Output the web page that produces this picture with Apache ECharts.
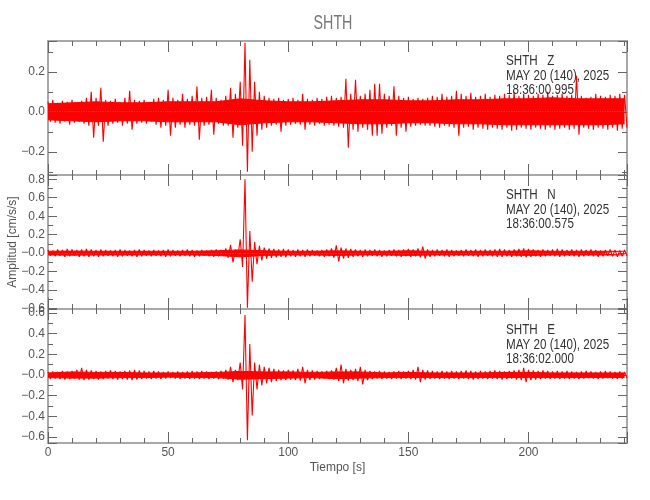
<!DOCTYPE html>
<html><head><meta charset="utf-8">
<script src="https://cdn.jsdelivr.net/npm/echarts@6/dist/echarts.min.js"></script>
<style>html,body{margin:0;padding:0;background:#fff}#c{width:650px;height:500px}</style>
</head><body><div id="c"></div>
<script>
// ---------------- data ----------------
const TITLE = 'SHTH';
const Y_NAME = 'Amplitud [cm/s/s]';
const X_NAME = 'Tiempo [s]';
const HEADERS = [
  ['SHTH   Z', 'MAY 20 (140), 2025', '18:36:00.995'],
  ['SHTH   N', 'MAY 20 (140), 2025', '18:36:00.575'],
  ['SHTH   E', 'MAY 20 (140), 2025', '18:36:02.000']
];
const BIN_SECONDS = 2;           // spike extremes read every 2 s (max first half, min second half)
const CORE_SECONDS = 10;         // solid core band read every 10 s
const X_RANGE = [0, 241];
const X_TICK_VALUES = [0, 50, 100, 150, 200];
const X_TICK_LABELS = ['0', '50', '100', '150', '200'];

// Z component: spike extremes (cm/s/s) per 2-s bin, t = 0..240
const Z_MAX = [0.05,0.06,0.045,0.055,0.05, 0.06,0.045,0.055,0.07,0.10,
 0.07,0.12,0.06,0.055,0.065, 0.05,0.07,0.105,0.06,0.055,
 0.06,0.05,0.065,0.07,0.06, 0.11,0.07,0.06,0.09,0.065,
 0.08,0.127,0.07,0.075,0.11, 0.07,0.06,0.08,0.12,0.09,
 0.15,0.345,0.26,0.15,0.10, 0.08,0.07,0.065,0.07,0.06,
 0.065,0.07,0.06,0.09,0.065, 0.06,0.07,0.065,0.075,0.08,
 0.07,0.075,0.165,0.09,0.16, 0.08,0.09,0.11,0.14,0.14,
 0.09,0.08,0.127,0.08,0.07, 0.075,0.065,0.07,0.065,0.07,
 0.08,0.075,0.09,0.075,0.08, 0.105,0.09,0.08,0.095,0.075,
 0.08,0.09,0.075,0.085,0.08, 0.09,0.085,0.1,0.08,0.09,
 0.085,0.08,0.09,0.085,0.1, 0.08,0.085,0.09,0.08,0.085,
 0.18,0.08,0.07,0.075,0.09, 0.08,0.075,0.085,0.08,0.09,
 0.085];
const Z_MIN = [-0.05,-0.055,-0.06,-0.05,-0.065, -0.055,-0.05,-0.06,-0.07,-0.13,
 -0.07,-0.15,-0.07,-0.06,-0.055, -0.07,-0.06,-0.09,-0.06,-0.055,
 -0.06,-0.05,-0.065,-0.08,-0.07, -0.12,-0.08,-0.065,-0.08,-0.065,
 -0.07,-0.14,-0.07,-0.065,-0.115, -0.06,-0.07,-0.07,-0.13,-0.08,
 -0.17,-0.30,-0.20,-0.12,-0.09, -0.08,-0.07,-0.065,-0.10,-0.07,
 -0.065,-0.06,-0.065,-0.09,-0.065, -0.07,-0.06,-0.07,-0.065,-0.07,
 -0.075,-0.08,-0.18,-0.09,-0.10, -0.08,-0.09,-0.12,-0.12,-0.11,
 -0.08,-0.07,-0.12,-0.08,-0.10, -0.075,-0.07,-0.065,-0.07,-0.07,
 -0.075,-0.08,-0.07,-0.075,-0.08, -0.12,-0.08,-0.075,-0.09,-0.08,
 -0.085,-0.09,-0.08,-0.085,-0.09, -0.08,-0.095,-0.09,-0.08,-0.085,
 -0.09,-0.08,-0.085,-0.09,-0.08, -0.09,-0.085,-0.08,-0.09,-0.085,
 -0.115,-0.08,-0.085,-0.09,-0.08, -0.085,-0.09,-0.08,-0.095,-0.085,
 -0.08];
// Z solid core band, t = 0..240 every 10 s
const Z_CORE_HI = [0.04,0.045,0.05,0.045,0.045, 0.05,0.05,0.05,0.065,0.055,
 0.05,0.05,0.055,0.06,0.06, 0.055,0.055,0.06,0.06,0.065, 0.065,0.07,0.065,0.065,0.065];
const Z_CORE_LO = [-0.04,-0.045,-0.05,-0.045,-0.045, -0.05,-0.05,-0.05,-0.065,-0.055,
 -0.05,-0.05,-0.055,-0.06,-0.06, -0.055,-0.055,-0.06,-0.06,-0.065, -0.065,-0.065,-0.065,-0.065,-0.06];

// N component
const N_MAX = [0.035,0.03,0.04,0.035,0.045, 0.04,0.035,0.04,0.045,0.04,
 0.035,0.04,0.035,0.03,0.035, 0.04,0.035,0.03,0.035,0.04,
 0.035,0.03,0.035,0.03,0.035, 0.04,0.035,0.03,0.035,0.04,
 0.035,0.03,0.035,0.03,0.035, 0.04,0.035,0.05,0.09,0.04,
 0.15,0.80,0.24,0.12,0.08, 0.06,0.05,0.045,0.04,0.045,
 0.04,0.035,0.04,0.035,0.04, 0.035,0.03,0.035,0.04,0.05,
 0.085,0.06,0.05,0.045,0.04, 0.035,0.04,0.035,0.04,0.035,
 0.03,0.035,0.04,0.035,0.04, 0.045,0.04,0.05,0.07,0.04,
 0.035,0.04,0.035,0.04,0.035, 0.03,0.035,0.04,0.035,0.04,
 0.035,0.04,0.035,0.04,0.045, 0.04,0.035,0.04,0.045,0.05,
 0.045,0.04,0.035,0.04,0.035, 0.04,0.045,0.04,0.035,0.04,
 0.035,0.04,0.035,0.04,0.035, 0.03,0.035,0.04,0.035,0.03,
 0.035];
const N_MIN = [-0.03,-0.035,-0.03,-0.04,-0.035, -0.03,-0.04,-0.035,-0.04,-0.035,
 -0.04,-0.035,-0.03,-0.035,-0.04, -0.035,-0.03,-0.035,-0.04,-0.035,
 -0.03,-0.035,-0.03,-0.035,-0.04, -0.035,-0.03,-0.035,-0.03,-0.035,
 -0.04,-0.035,-0.03,-0.035,-0.04, -0.035,-0.03,-0.05,-0.10,-0.04,
 -0.15,-0.59,-0.31,-0.12,-0.08, -0.06,-0.05,-0.045,-0.04,-0.045,
 -0.035,-0.04,-0.035,-0.04,-0.035, -0.03,-0.035,-0.04,-0.035,-0.05,
 -0.09,-0.06,-0.05,-0.04,-0.035, -0.04,-0.035,-0.03,-0.035,-0.04,
 -0.035,-0.03,-0.035,-0.04,-0.035, -0.04,-0.035,-0.045,-0.06,-0.04,
 -0.035,-0.03,-0.035,-0.04,-0.035, -0.03,-0.035,-0.03,-0.035,-0.04,
 -0.035,-0.03,-0.035,-0.04,-0.04, -0.035,-0.04,-0.035,-0.04,-0.045,
 -0.04,-0.035,-0.04,-0.035,-0.03, -0.035,-0.04,-0.035,-0.03,-0.035,
 -0.04,-0.035,-0.03,-0.035,-0.04, -0.035,-0.03,-0.035,-0.04,-0.035,
 -0.03];
const N_CORE_HI = [0.02,0.022,0.02,0.02,0.02, 0.02,0.02,0.025,0.035,0.025,
 0.02,0.02,0.025,0.02,0.02, 0.025,0.02,0.02,0.02,0.02, 0.025,0.02,0.02,0.02,0.02];
const N_CORE_LO = [-0.02,-0.022,-0.02,-0.02,-0.02, -0.02,-0.02,-0.025,-0.04,-0.025,
 -0.02,-0.02,-0.025,-0.02,-0.02, -0.025,-0.02,-0.02,-0.02,-0.02, -0.025,-0.02,-0.02,-0.02,-0.02];

// E component
const E_MAX = [0.03,0.035,0.03,0.04,0.035, 0.04,0.05,0.07,0.05,0.045,
 0.04,0.035,0.04,0.045,0.04, 0.035,0.04,0.045,0.05,0.045,
 0.04,0.035,0.04,0.035,0.03, 0.035,0.03,0.035,0.03,0.035,
 0.04,0.035,0.04,0.035,0.03, 0.035,0.04,0.05,0.08,0.05,
 0.12,0.58,0.30,0.12,0.10, 0.08,0.07,0.06,0.05,0.045,
 0.05,0.045,0.06,0.08,0.05, 0.045,0.04,0.035,0.04,0.045,
 0.07,0.10,0.06,0.05,0.06, 0.08,0.05,0.04,0.035,0.04,
 0.035,0.03,0.035,0.04,0.035, 0.04,0.05,0.08,0.05,0.045,
 0.04,0.035,0.04,0.035,0.04, 0.035,0.04,0.045,0.04,0.035,
 0.04,0.035,0.04,0.045,0.04, 0.035,0.04,0.045,0.05,0.07,
 0.05,0.045,0.04,0.045,0.04, 0.035,0.04,0.035,0.04,0.035,
 0.03,0.035,0.04,0.035,0.03, 0.035,0.04,0.035,0.03,0.035,
 0.03];
const E_MIN = [-0.04,-0.035,-0.04,-0.045,-0.04, -0.035,-0.045,-0.05,-0.045,-0.04,
 -0.045,-0.04,-0.035,-0.04,-0.045, -0.04,-0.045,-0.05,-0.045,-0.04,
 -0.035,-0.04,-0.035,-0.04,-0.035, -0.03,-0.035,-0.04,-0.035,-0.04,
 -0.035,-0.04,-0.035,-0.04,-0.035, -0.04,-0.035,-0.045,-0.07,-0.05,
 -0.14,-0.63,-0.39,-0.14,-0.10, -0.08,-0.07,-0.06,-0.05,-0.05,
 -0.045,-0.05,-0.055,-0.08,-0.05, -0.045,-0.04,-0.035,-0.04,-0.045,
 -0.06,-0.08,-0.055,-0.05,-0.06, -0.09,-0.05,-0.04,-0.035,-0.04,
 -0.035,-0.04,-0.035,-0.04,-0.035, -0.04,-0.045,-0.07,-0.045,-0.04,
 -0.035,-0.04,-0.035,-0.04,-0.035, -0.04,-0.035,-0.04,-0.045,-0.04,
 -0.035,-0.04,-0.035,-0.04,-0.045, -0.04,-0.035,-0.045,-0.05,-0.07,
 -0.05,-0.045,-0.04,-0.035,-0.04, -0.035,-0.04,-0.035,-0.04,-0.035,
 -0.04,-0.035,-0.03,-0.035,-0.04, -0.035,-0.03,-0.035,-0.04,-0.035,
 -0.03];
const E_CORE_HI = [0.02,0.03,0.025,0.025,0.02, 0.02,0.02,0.025,0.035,0.03,
 0.03,0.025,0.03,0.03,0.02, 0.025,0.02,0.02,0.02,0.025, 0.025,0.02,0.02,0.02,0.02];
const E_CORE_LO = [-0.025,-0.03,-0.03,-0.025,-0.025, -0.02,-0.025,-0.025,-0.04,-0.035,
 -0.03,-0.025,-0.035,-0.03,-0.025, -0.025,-0.025,-0.025,-0.025,-0.025, -0.025,-0.025,-0.025,-0.025,-0.025];

const Y_RANGES = [[-0.316, 0.354], [-0.605, 0.846], [-0.657, 0.638]];
const Y_TICK_VALUES = [
  [-0.2, 0, 0.2],
  [-0.6, -0.4, -0.2, 0, 0.2, 0.4, 0.6, 0.8],
  [-0.6, -0.4, -0.2, 0, 0.2, 0.4, 0.6]
];
const Y_TICK_LABELS = [
  ['\u22120.2', '0.0', '0.2'],
  ['\u22120.6', '\u22120.4', '\u22120.2', '\u22120.0', '0.2', '0.4', '0.6', '0.8'],
  ['\u22120.6', '\u22120.4', '\u22120.2', '\u22120.0', '0.2', '0.4', '0.6']
];
const UPPER = [Z_MAX, N_MAX, E_MAX];
const LOWER = [Z_MIN, N_MIN, E_MIN];
const CORE_HI = [Z_CORE_HI, N_CORE_HI, E_CORE_HI];
const CORE_LO = [Z_CORE_LO, N_CORE_LO, E_CORE_LO];

// ---------------- styling / layout ----------------
const FONT = '"Liberation Sans", Arial, sans-serif';
const FRAME = '#a8a8a8';
const TICK = '#666';
const LABEL = '#555';
const RED = '#ff0000';
const GRID_TOPS = [41, 175, 309];
const GRID_H = 134;

function lookupLabel(values, labels, v, tol) {
  for (let i = 0; i < values.length; i++) if (Math.abs(values[i] - v) < tol) return labels[i];
  return '';
}

const grids = GRID_TOPS.map(t => ({ left: 48, right: 23, top: t, height: GRID_H, containLabel: false, outerBoundsMode: 'none' }));
const xAxes = [], yAxes = [], series = [];
for (let g = 0; g < 3; g++) {
  ['bottom', 'top'].forEach(pos => {
    const showLab = (g === 2 && pos === 'bottom');
    xAxes.push({
      type: 'value', gridIndex: g, position: pos, min: X_RANGE[0], max: X_RANGE[1],
      minInterval: 50, maxInterval: 50, splitNumber: 5,
      axisLine: { show: true, onZero: false, lineStyle: { color: FRAME, width: 2 } },
      axisTick: { show: true, inside: true, length: 11, lineStyle: { color: TICK, width: 1 } },
      minorTick: { show: true, splitNumber: 5, length: 5, lineStyle: { color: TICK, width: 1 } },
      splitLine: { show: false }, minorSplitLine: { show: false },
      axisLabel: {
        show: showLab, margin: 4, color: LABEL, fontFamily: FONT, fontSize: 12,
        formatter: v => lookupLabel(X_TICK_VALUES, X_TICK_LABELS, v, 1e-6)
      },
      name: showLab ? X_NAME : '', nameLocation: 'middle', nameGap: 19, nameMoveOverlap: false,
      nameTextStyle: { color: LABEL, fontFamily: FONT, fontSize: 12 }
    });
  });
  ['left', 'right'].forEach(pos => {
    const showLab = pos === 'left';
    yAxes.push({
      type: 'value', gridIndex: g, position: pos, min: Y_RANGES[g][0], max: Y_RANGES[g][1],
      minInterval: 0.2, maxInterval: 0.2, splitNumber: 4,
      axisLine: { show: true, onZero: false, lineStyle: { color: FRAME, width: 2 } },
      axisTick: { show: true, inside: true, length: 9, lineStyle: { color: TICK, width: 1 } },
      minorTick: { show: true, splitNumber: 2, length: 5, lineStyle: { color: TICK, width: 1 } },
      splitLine: { show: false }, minorSplitLine: { show: false },
      axisLabel: {
        show: showLab, margin: 3, color: LABEL, fontFamily: FONT, fontSize: 12,
        formatter: v => lookupLabel(Y_TICK_VALUES[g], Y_TICK_LABELS[g], v, 1e-6)
      },
      name: (showLab && g === 1) ? Y_NAME : '', nameLocation: 'middle', nameGap: 29, nameRotate: 90,
      nameMoveOverlap: false,
      nameTextStyle: { color: LABEL, fontFamily: FONT, fontSize: 12 }
    });
  });
  // solid core band
  [CORE_HI[g], CORE_LO[g]].forEach(arr => {
    series.push({
      type: 'line', xAxisIndex: 2 * g, yAxisIndex: 2 * g,
      data: arr.map((v, k) => [Math.min(k * CORE_SECONDS, X_RANGE[1]), v]),
      showSymbol: false, symbol: 'none', sampling: null, clip: true,
      lineStyle: { color: RED, width: 1 },
      areaStyle: { color: RED, opacity: 1, origin: 0 },
      z: 1
    });
  });
  // spikes: each bin's max at its start, its min half a bin later
  const pts = [];
  UPPER[g].forEach((v, k) => {
    pts.push([k * BIN_SECONDS, v]);
    if (k * BIN_SECONDS + BIN_SECONDS / 2 <= X_RANGE[1]) pts.push([k * BIN_SECONDS + BIN_SECONDS / 2, LOWER[g][k]]);
  });
  series.push({
    type: 'line', xAxisIndex: 2 * g, yAxisIndex: 2 * g,
    data: pts, showSymbol: false, symbol: 'none', sampling: null, clip: true,
    lineStyle: { color: RED, width: 1.1 },
    z: 2
  });
}

const graphics = [{
  type: 'text', x: 333, y: 23, scaleX: 0.68,
  style: { text: TITLE, fill: '#777', font: '21px ' + FONT, textAlign: 'center', textVerticalAlign: 'middle' }
}];
const HEADER_TOPS = [54, 188, 323];
HEADERS.forEach((lines, g) => {
  graphics.push({
    type: 'text', x: 506, y: HEADER_TOPS[g], z: 100, scaleX: 0.83,
    style: { text: lines.join('\n'), fill: '#333', font: '14px ' + FONT, lineHeight: 14.5,
             textAlign: 'left', textVerticalAlign: 'top' }
  });
});

const chart = echarts.init(document.getElementById('c'), null, { renderer: 'canvas' });
chart.setOption({
  animation: false,
  backgroundColor: '#fff',
  grid: grids, xAxis: xAxes, yAxis: yAxes, series: series, graphic: graphics
});
</script></body></html>
